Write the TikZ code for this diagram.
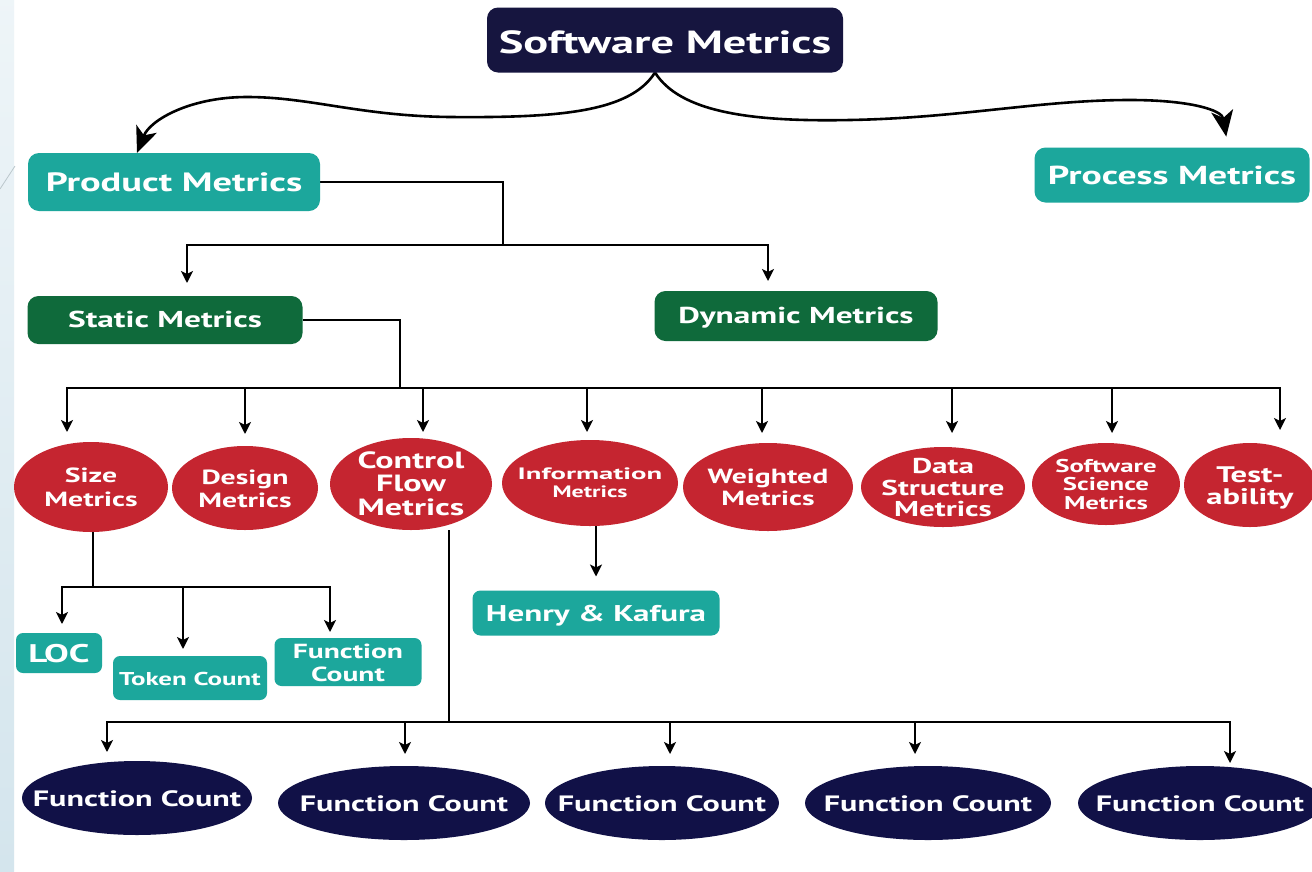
\documentclass[tikz,border=0pt]{standalone}
\usepackage{fontspec}
\usepackage{graphicx}
\setmainfont{PT Sans}
\usetikzlibrary{arrows.meta,shapes.geometric,calc,backgrounds}
\definecolor{navyc}{HTML}{16153F}
\definecolor{navye}{HTML}{111147}
\definecolor{tealc}{HTML}{1CA79C}
\definecolor{greenc}{HTML}{0F6A3B}
\definecolor{redc}{HTML}{C52530}
\definecolor{stripc}{HTML}{D4E5ED}
\renewcommand\arraystretch{1}
\newcommand\ml[2][1.45]{\makebox[0pt]{\raisebox{-0.4em}[0pt][0pt]{\scalebox{#1}[1]{\begin{tabular}{@{}c@{}}#2\end{tabular}}}}}
\tikzset{
  fnt/.style 2 args={font=\bfseries\fontsize{#1}{#2}\selectfont},
  base/.style={text=white, align=center, inner sep=0pt, outer sep=0pt},
  rbox/.style={base, rectangle, rounded corners=11pt},
  ell/.style={base, ellipse, fill=redc},
  fell/.style={base, ellipse, fill=navye},
  ln/.style={line width=2.3pt, black},
  arr/.style={ln, -{Stealth[length=12pt,width=12pt,inset=3pt]}},
  big/.style={line width=2.6pt, black, -{Stealth[length=26pt,width=22pt,inset=7pt]}},
}
\begin{document}
\begin{tikzpicture}[x=1pt,y=-1pt]
\useasboundingbox (0,0) rectangle (1312,871);

% top level
\node[rbox, fill=navyc, minimum width=356pt, minimum height=65pt, fnt={32}{34}] (sw) at (665,40) {\ml{Software Metrics}};
\node[rbox, fill=tealc, minimum width=292pt, minimum height=58pt, fnt={26.5}{28}] (prod) at (174,182) {\ml{Product Metrics}};
\node[rbox, fill=tealc, minimum width=275pt, minimum height=55pt, fnt={26}{28}] (proc) at (1172,175) {\ml{Process Metrics}};
\node[rbox, fill=greenc, minimum width=275pt, minimum height=48pt, fnt={23}{25}] (stat) at (165,320) {\ml{Static Metrics}};
\node[rbox, fill=greenc, minimum width=283pt, minimum height=50pt, fnt={23}{25}] (dyn) at (796,316) {\ml{Dynamic Metrics}};

% red ellipses
\node[ell, minimum width=154pt, minimum height=90pt, fnt={20.5}{24}] (size) at (91,487) {\ml{Size\\Metrics}};
\node[ell, minimum width=146pt, minimum height=84pt, fnt={20.5}{23}] (design) at (245,488) {\ml{Design\\Metrics}};
\node[ell, minimum width=162pt, minimum height=92pt, fnt={23.5}{23}] (cf) at (411,484) {\ml{Control\\Flow\\Metrics}};
\node[ell, minimum width=176pt, minimum height=86pt, fnt={16.5}{18}] (info) at (590,483) {\ml{\scalebox{1.2}[1]{Information}\\Metrics}};
\node[ell, minimum width=170pt, minimum height=88pt, fnt={20.5}{22}] (wt) at (768,487) {\ml{Weighted\\Metrics}};
\node[ell, minimum width=164pt, minimum height=80pt, fnt={21.5}{19.5}] (ds) at (943,487) {\ml{Data\\Structure\\Metrics}};
\node[ell, minimum width=148pt, minimum height=82pt, fnt={18.5}{18.5}] (ss) at (1106,484) {\ml{Software\\Science\\Metrics}};
\node[ell, minimum width=132pt, minimum height=84pt, fnt={22.5}{22}] (test) at (1250,485) {\ml{Test-\\ability}};

% size children
\node[rbox, fill=tealc, minimum width=86pt, minimum height=40pt, rounded corners=7pt, fnt={25.5}{26}] (loc) at (59,653) {\ml{LOC}};
\node[rbox, fill=tealc, minimum width=154pt, minimum height=44pt, rounded corners=7pt, fnt={18.6}{20}] (tok) at (190,678) {\ml{Token Count}};
\node[rbox, fill=tealc, minimum width=147pt, minimum height=48pt, rounded corners=7pt, fnt={20.4}{23}] (fcb) at (348,662) {\ml{Function\\Count}};
\node[rbox, fill=tealc, minimum width=247pt, minimum height=45pt, rounded corners=8pt, fnt={22.8}{24}] (hk) at (596,613) {\ml{Henry \& Kafura}};

% function count ellipses
\node[fell, minimum width=230pt, minimum height=74pt, fnt={22.2}{24}] (f1) at (137,798) {\ml{Function Count}};
\node[fell, minimum width=252pt, minimum height=74pt, fnt={22.2}{24}] (f2) at (404,803) {\ml{Function Count}};
\node[fell, minimum width=234pt, minimum height=74pt, fnt={22.2}{24}] (f3) at (662,803) {\ml{Function Count}};
\node[fell, minimum width=246pt, minimum height=74pt, fnt={22.2}{24}] (f4) at (928,803) {\ml{Function Count}};
\node[fell, minimum width=244pt, minimum height=74pt, fnt={22.2}{24}] (f5) at (1200,803) {\ml{Function Count}};

\coordinate (j1) at (503,245);
\coordinate (j2) at (400,388);
\coordinate (j3) at (93,587);
\coordinate (j4) at (449,722);

\begin{scope}[on background layer]
\fill[white] (0,0) rectangle (1312,871);
\shade[top color=white!60!stripc, bottom color=stripc] (0,0) rectangle (14,871);
\draw[color=stripc!70!gray, line width=0.8pt] (0,189) -- (15,166);

% curved arrows
\draw[big] ([xshift=-10pt]sw.south) .. controls (630,112) and (560,118) .. (450,117)
  .. controls (360,116) and (310,97) .. (247,97)
  .. controls (190,97) and (150,120) .. ([xshift=-37pt]prod.north);
\draw[big, shorten >=11pt] ([xshift=-10pt]sw.south) .. controls (680,112) and (750,122) .. (850,120)
  .. controls (960,118) and (1040,100) .. (1130,100)
  .. controls (1190,100) and (1222,110) .. ([xshift=56pt]proc.north);

% product -> static / dynamic
\draw[ln] (prod.east) -| (j1);
\draw[arr, shorten >=13pt] (j1) -| ([xshift=22pt]stat.north);
\draw[arr, shorten >=10pt] (j1) -| ([xshift=-28pt]dyn.north);

% static -> red ellipses
\draw[ln] (stat.east) -| (j2);
\draw[arr, shorten >=10pt] (j2) -| ([xshift=-24pt]size.north);
\draw[arr, shorten >=12pt] (j2) -| (design.north);
\draw[arr, shorten >=6pt] (j2) -| ([xshift=12pt]cf.north);
\draw[arr, shorten >=8pt] (j2) -| ([xshift=-3pt]info.north);
\draw[arr, shorten >=10pt] (j2) -| ([xshift=-6pt]wt.north);
\draw[arr, shorten >=14pt] (j2) -| ([xshift=9pt]ds.north);
\draw[arr, shorten >=10pt] (j2) -| ([xshift=6pt]ss.north);
\draw[arr, shorten >=13pt] (j2) -| ([xshift=30pt]test.north);

% size -> children
\draw[ln] (size.south -| j3) -- (j3);
\draw[arr, shorten >=9pt] (j3) -| ([xshift=3pt]loc.north);
\draw[arr, shorten >=7pt] (j3) -| ([xshift=-7pt]tok.north);
\draw[arr, shorten >=6pt] (j3) -| ([xshift=-18pt]fcb.north);

% information -> henry & kafura
\draw[arr, shorten >=14pt] (info.south -| hk.north) -- (hk.north);

% control flow -> function counts
\draw[ln] (cf.south -| j4) -- (j4);
\draw[arr, shorten >=9pt] (j4) -| ([xshift=-30pt]f1.north);
\draw[arr, shorten >=12pt] (j4) -| ([xshift=1pt]f2.north);
\draw[arr, shorten >=12pt] (j4) -| ([xshift=8pt]f3.north);
\draw[arr, shorten >=12pt] (j4) -| ([xshift=-13pt]f4.north);
\draw[arr, shorten >=3pt] (j4) -| ([xshift=30pt]f5.north);
\end{scope}
\end{tikzpicture}
\end{document}
